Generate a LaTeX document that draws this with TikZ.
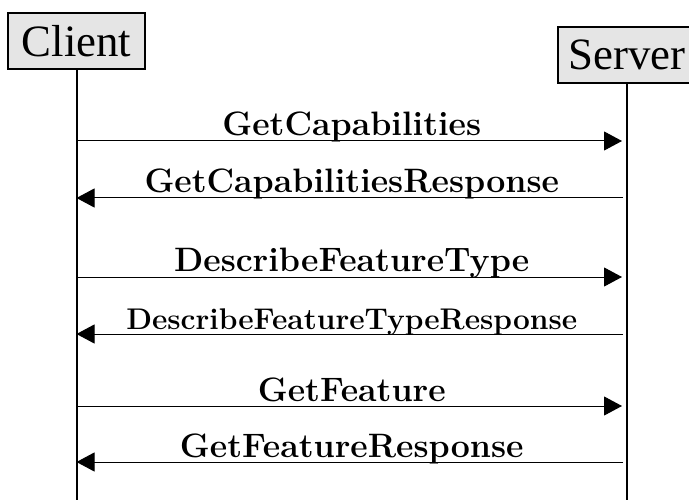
\documentclass[tikz,border=0pt]{standalone}
\usepackage{fontspec}
\newfontfamily\actorfont{Liberation Serif}
\usetikzlibrary{arrows.meta, positioning}

\tikzset{
    actor/.style={draw, line width=2bp, fill=black!10, minimum height=56bp, inner sep=0pt,
        font=\actorfont\fontsize{45}{45}\selectfont},
    lifeline/.style={line width=2bp},
    req/.style={-{Triangle[length=18bp, width=19bp]}, line width=1bp, shorten >=5bp},
    resp/.style={-{Triangle[length=18bp, width=19bp]}, line width=1bp, shorten <=4bp},
}

\begin{document}
\begin{tikzpicture}[x=1bp, y=-1bp]
    \useasboundingbox (0,0) rectangle (689,500);
    \clip (0,0) rectangle (689,500);

    \node[actor, minimum width=137bp] (client) at (76.5,41) {Client};
    \node[actor, minimum width=138bp] (server) at (627,55) {Server};

    \coordinate (clientend) at (client.south |- 0,505);
    \coordinate (serverend) at (server.south |- 0,505);
    \draw[lifeline] (client) -- (clientend);
    \draw[lifeline] (server) -- (serverend);

    \foreach \y/\a/\b/\st/\t/\s in {141/client/server/req/GetCapabilities/34,
                                   198/server/client/resp/GetCapabilitiesResponse/34,
                                   277/client/server/req/DescribeFeatureType/34,
                                   334/server/client/resp/DescribeFeatureTypeResponse/30,
                                   406/client/server/req/GetFeature/34,
                                   462/server/client/resp/GetFeatureResponse/34} {
        \coordinate (from) at (\a.south |- 0,\y);
        \coordinate (to) at (\b.south |- 0,\y);
        \draw[\st] (from) -- (to)
            node[midway, anchor=base, yshift=5bp, font=\bfseries\fontsize{\s}{\s}\selectfont] {\t};
    }
\end{tikzpicture}
\end{document}
